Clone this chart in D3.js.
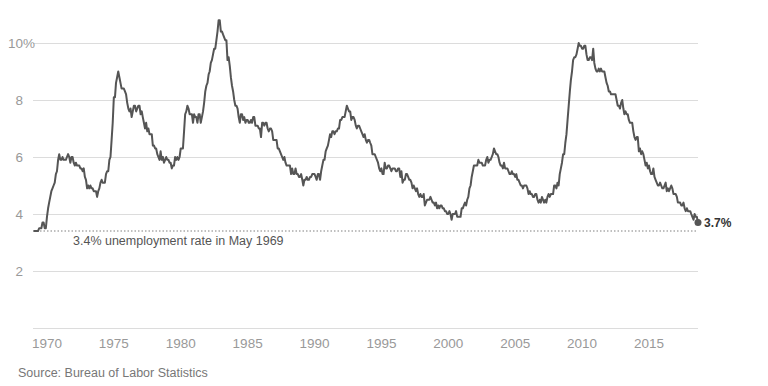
<!DOCTYPE html>
<html>
<head>
<meta charset="utf-8">
<script src="https://cdn.jsdelivr.net/npm/d3@7"></script>
<style>
  body { margin: 0; background: #fff; }
  svg { font-family: "Liberation Sans", Arial, sans-serif; }
</style>
</head>
<body>
<script>
// monthly unemployment rate, seasonally adjusted, Jan 1969 - Sep 2018
var startYear = 1969;
var rates = [
  3.4,3.4,3.4,3.4,3.4,3.5,3.5,3.5,3.7,3.7,3.5,3.5, // 1969
  3.9,4.2,4.4,4.6,4.8,4.9,5.0,5.1,5.4,5.5,5.9,6.1,
  5.9,5.9,6.0,5.9,5.9,5.9,6.0,6.1,6.0,5.8,6.0,6.0,
  5.8,5.7,5.8,5.7,5.7,5.7,5.6,5.6,5.5,5.6,5.3,5.2,
  4.9,5.0,4.9,5.0,4.9,4.9,4.8,4.8,4.8,4.6,4.8,4.9,
  5.1,5.2,5.1,5.1,5.1,5.4,5.5,5.5,5.9,6.0,6.6,7.2,
  8.1,8.1,8.6,8.8,9.0,8.8,8.6,8.4,8.4,8.4,8.3,8.2, // 1975
  7.9,7.7,7.6,7.7,7.4,7.6,7.8,7.8,7.6,7.7,7.8,7.8,
  7.5,7.6,7.4,7.2,7.0,7.2,6.9,7.0,6.8,6.8,6.8,6.4,
  6.4,6.3,6.3,6.1,6.0,5.9,6.2,5.9,6.0,5.8,5.9,6.0,
  5.9,5.9,5.8,5.8,5.6,5.7,5.7,6.0,5.9,6.0,5.9,6.0,
  6.3,6.3,6.3,6.9,7.5,7.6,7.8,7.7,7.5,7.5,7.5,7.2, // 1980
  7.5,7.4,7.4,7.2,7.5,7.5,7.2,7.4,7.6,7.9,8.3,8.5,
  8.6,8.9,9.0,9.3,9.4,9.6,9.8,9.8,10.1,10.4,10.8,10.8,
  10.4,10.4,10.3,10.2,10.1,10.1,9.4,9.5,9.2,8.8,8.5,8.3,
  8.0,7.8,7.8,7.7,7.4,7.2,7.5,7.5,7.3,7.4,7.2,7.3,
  7.3,7.2,7.2,7.3,7.2,7.4,7.4,7.1,7.1,7.1,7.0,7.0, // 1985
  6.7,7.2,7.2,7.1,7.2,7.2,7.0,6.9,7.0,7.0,6.9,6.6,
  6.6,6.6,6.6,6.3,6.3,6.2,6.1,6.0,5.9,6.0,5.8,5.7,
  5.7,5.7,5.7,5.4,5.6,5.4,5.4,5.6,5.4,5.4,5.3,5.3,
  5.4,5.2,5.0,5.2,5.2,5.3,5.2,5.2,5.3,5.3,5.4,5.4,
  5.4,5.3,5.2,5.4,5.4,5.2,5.5,5.7,5.9,5.9,6.2,6.3, // 1990
  6.4,6.6,6.8,6.7,6.9,6.9,6.8,6.9,6.9,7.0,7.0,7.3,
  7.3,7.4,7.4,7.4,7.6,7.8,7.7,7.6,7.6,7.3,7.4,7.4,
  7.3,7.1,7.0,7.1,7.1,7.0,6.9,6.8,6.7,6.8,6.6,6.5,
  6.6,6.6,6.5,6.4,6.1,6.1,6.1,6.0,5.9,5.8,5.6,5.5,
  5.6,5.4,5.4,5.8,5.6,5.6,5.7,5.7,5.6,5.5,5.6,5.6, // 1995
  5.6,5.5,5.5,5.6,5.6,5.3,5.5,5.1,5.2,5.2,5.4,5.4,
  5.3,5.2,5.2,5.1,4.9,5.0,4.9,4.8,4.9,4.7,4.6,4.7,
  4.6,4.6,4.7,4.3,4.4,4.5,4.5,4.5,4.6,4.5,4.4,4.4,
  4.3,4.4,4.2,4.3,4.2,4.3,4.3,4.2,4.2,4.1,4.1,4.0,
  4.0,4.1,4.0,3.8,4.0,4.0,4.0,4.1,3.9,3.9,3.9,3.9, // 2000
  4.2,4.2,4.3,4.4,4.3,4.5,4.6,4.9,5.0,5.3,5.5,5.7,
  5.7,5.7,5.7,5.9,5.8,5.8,5.8,5.7,5.7,5.7,5.9,6.0,
  5.8,5.9,5.9,6.0,6.1,6.3,6.2,6.1,6.1,6.0,5.8,5.7,
  5.7,5.6,5.8,5.6,5.6,5.6,5.5,5.4,5.4,5.5,5.4,5.4,
  5.3,5.4,5.2,5.2,5.1,5.0,5.0,4.9,5.0,5.0,5.0,4.9, // 2005
  4.7,4.8,4.7,4.7,4.6,4.6,4.7,4.7,4.5,4.4,4.5,4.4,
  4.6,4.5,4.4,4.5,4.4,4.6,4.7,4.6,4.7,4.7,4.7,5.0,
  5.0,4.9,5.1,5.0,5.4,5.6,5.8,6.1,6.1,6.5,6.8,7.3,
  7.8,8.3,8.7,9.0,9.4,9.5,9.5,9.6,9.8,10.0,9.9,9.9,
  9.8,9.8,9.9,9.9,9.6,9.4,9.4,9.5,9.5,9.4,9.8,9.3, // 2010
  9.1,9.0,9.0,9.1,9.0,9.1,9.0,9.0,9.0,8.8,8.6,8.5,
  8.3,8.3,8.2,8.2,8.2,8.2,8.2,8.0,7.8,7.8,7.7,7.9,
  8.0,7.7,7.5,7.6,7.5,7.5,7.3,7.2,7.2,7.2,6.9,6.7,
  6.6,6.7,6.7,6.2,6.3,6.1,6.2,6.1,5.9,5.7,5.8,5.6,
  5.7,5.5,5.4,5.4,5.6,5.3,5.2,5.1,5.0,5.0,5.1,5.0, // 2015
  4.9,4.9,5.0,5.1,4.8,4.9,4.8,4.9,5.0,4.9,4.7,4.7,
  4.7,4.6,4.4,4.4,4.4,4.3,4.3,4.4,4.2,4.1,4.2,4.1,
  4.1,4.1,4.0,3.9,3.8,4.0,3.9,3.9,3.7
];
var yTicks = [2, 4, 6, 8, 10];
var xTickYears = [1970, 1975, 1980, 1985, 1990, 1995, 2000, 2005, 2010, 2015];
var refRate = 3.4;
var refLabel = "3.4% unemployment rate in May 1969";
var sourceText = "Source: Bureau of Labor Statistics";

var data = rates.map(function(v, i) {
  return { date: new Date(startYear, i, 1), value: v };
});
var last = data[data.length - 1];

var width = 768, height = 386;
var svg = d3.select("body").append("svg")
  .attr("width", width)
  .attr("height", height);

var x = d3.scaleTime()
  .domain([new Date(startYear, 0, 1), last.date])
  .range([33.6, 698]);
var y = d3.scaleLinear()
  .domain([0, 10])
  .range([328, 43]);

// grid
svg.append("g")
  .selectAll("line")
  .data([0].concat(yTicks))
  .enter().append("line")
  .attr("x1", 33).attr("x2", 698)
  .attr("y1", function(d) { return y(d) + 0.5; })
  .attr("y2", function(d) { return y(d) + 0.5; })
  .attr("stroke", "#dcdcdc")
  .attr("stroke-width", 1);

// y labels
var yl = svg.append("g").attr("fill", "#999").attr("font-size", "13.5px");
yl.selectAll("text")
  .data(yTicks)
  .enter().append("text")
  .attr("x", 23)
  .attr("y", function(d) { return y(d) + 5; })
  .attr("text-anchor", "end")
  .text(function(d) { return d; });
yl.append("text")
  .attr("x", 23)
  .attr("y", y(10) + 5)
  .text("%");

// x labels
svg.append("g")
  .attr("fill", "#999").attr("font-size", "13.5px")
  .selectAll("text")
  .data(xTickYears)
  .enter().append("text")
  .attr("x", function(d) { return x(new Date(d, 0, 1)); })
  .attr("y", 348)
  .attr("text-anchor", "middle")
  .text(function(d) { return d; });

// reference line
svg.append("line")
  .attr("x1", 33).attr("x2", 698)
  .attr("y1", y(refRate)).attr("y2", y(refRate))
  .attr("stroke", "#aaa")
  .attr("stroke-width", 1.5)
  .attr("stroke-dasharray", "1.5,2");
svg.append("text")
  .attr("x", 73)
  .attr("y", 245)
  .attr("fill", "#555")
  .attr("font-size", "12.5px")
  .text(refLabel);

// line
var line = d3.line()
  .x(function(d) { return x(d.date); })
  .y(function(d) { return y(d.value); });
svg.append("path")
  .datum(data)
  .attr("d", line)
  .attr("fill", "none")
  .attr("stroke", "#555")
  .attr("stroke-width", 2)
  .attr("stroke-linejoin", "round");

svg.append("circle")
  .attr("cx", x(last.date))
  .attr("cy", y(last.value))
  .attr("r", 3.5)
  .attr("fill", "#555");
svg.append("text")
  .attr("x", x(last.date) + 6)
  .attr("y", y(last.value) + 4.5)
  .attr("fill", "#333")
  .attr("font-size", "12px")
  .attr("font-weight", "bold")
  .text(last.value + "%");

svg.append("text")
  .attr("x", 18)
  .attr("y", 377)
  .attr("fill", "#777")
  .attr("font-size", "12.5px")
  .text(sourceText);
</script>
</body>
</html>
